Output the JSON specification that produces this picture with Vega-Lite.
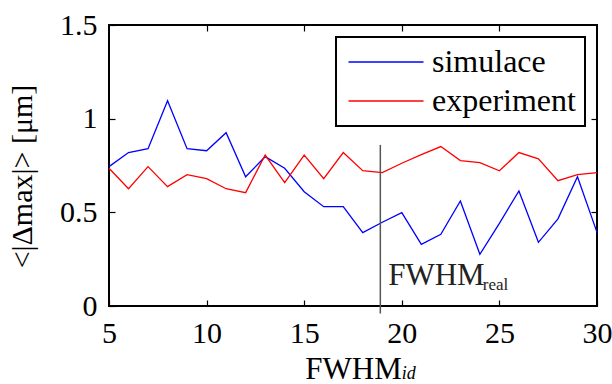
{
  "$schema": "https://vega.github.io/schema/vega-lite/v6.json",
  "width": 488,
  "height": 281,
  "autosize": {"type": "none"},
  "padding": {"left": 109, "top": 25, "right": 15, "bottom": 78},
  "background": "white",
  "config": {
    "font": "Liberation Serif",
    "view": {"stroke": "black", "strokeWidth": 2}
  },
  "resolve": {"axis": {"x": "independent", "y": "independent"}},
  "layer": [
    {
      "data": {
        "values": [
          {"x": 5, "series": "simulace", "value": 0.744},
          {"x": 6, "series": "simulace", "value": 0.819},
          {"x": 7, "series": "simulace", "value": 0.840},
          {"x": 8, "series": "simulace", "value": 1.096},
          {"x": 9, "series": "simulace", "value": 0.840},
          {"x": 10, "series": "simulace", "value": 0.829},
          {"x": 11, "series": "simulace", "value": 0.925},
          {"x": 12, "series": "simulace", "value": 0.690},
          {"x": 13, "series": "simulace", "value": 0.797},
          {"x": 14, "series": "simulace", "value": 0.735},
          {"x": 15, "series": "simulace", "value": 0.610},
          {"x": 16, "series": "simulace", "value": 0.530},
          {"x": 17, "series": "simulace", "value": 0.530},
          {"x": 18, "series": "simulace", "value": 0.392},
          {"x": 19, "series": "simulace", "value": 0.447},
          {"x": 20, "series": "simulace", "value": 0.498},
          {"x": 21, "series": "simulace", "value": 0.329},
          {"x": 22, "series": "simulace", "value": 0.383},
          {"x": 23, "series": "simulace", "value": 0.561},
          {"x": 24, "series": "simulace", "value": 0.276},
          {"x": 25, "series": "simulace", "value": 0.441},
          {"x": 26, "series": "simulace", "value": 0.614},
          {"x": 27, "series": "simulace", "value": 0.340},
          {"x": 28, "series": "simulace", "value": 0.465},
          {"x": 29, "series": "simulace", "value": 0.690},
          {"x": 30, "series": "simulace", "value": 0.393},
          {"x": 5, "series": "experiment", "value": 0.735},
          {"x": 6, "series": "experiment", "value": 0.626},
          {"x": 7, "series": "experiment", "value": 0.744},
          {"x": 8, "series": "experiment", "value": 0.637},
          {"x": 9, "series": "experiment", "value": 0.701},
          {"x": 10, "series": "experiment", "value": 0.680},
          {"x": 11, "series": "experiment", "value": 0.626},
          {"x": 12, "series": "experiment", "value": 0.605},
          {"x": 13, "series": "experiment", "value": 0.806},
          {"x": 14, "series": "experiment", "value": 0.658},
          {"x": 15, "series": "experiment", "value": 0.806},
          {"x": 16, "series": "experiment", "value": 0.680},
          {"x": 17, "series": "experiment", "value": 0.819},
          {"x": 18, "series": "experiment", "value": 0.722},
          {"x": 19, "series": "experiment", "value": 0.712},
          {"x": 20, "series": "experiment", "value": 0.762},
          {"x": 21, "series": "experiment", "value": 0.808},
          {"x": 22, "series": "experiment", "value": 0.851},
          {"x": 23, "series": "experiment", "value": 0.776},
          {"x": 24, "series": "experiment", "value": 0.765},
          {"x": 25, "series": "experiment", "value": 0.722},
          {"x": 26, "series": "experiment", "value": 0.819},
          {"x": 27, "series": "experiment", "value": 0.786},
          {"x": 28, "series": "experiment", "value": 0.669},
          {"x": 29, "series": "experiment", "value": 0.701},
          {"x": 30, "series": "experiment", "value": 0.712}
        ]
      },
      "mark": {"type": "line", "strokeWidth": 1.3},
      "encoding": {
        "x": {
          "field": "x", "type": "quantitative",
          "scale": {"domain": [5, 30], "nice": false, "zero": false},
          "axis": {
            "values": [5, 10, 15, 20, 25, 30], "title": "FWHM",
            "domain": false, "grid": false,
            "tickColor": "black", "tickSize": -6, "tickWidth": 1.2,
            "labelFont": "Liberation Serif", "labelFontSize": 30, "labelColor": "black",
            "labelPadding": 18, "labelFlush": false,
            "titleFont": "Liberation Serif", "titleFontSize": 31, "titleFontWeight": "normal", "titleColor": "black",
            "titlePadding": 6
          }
        },
        "y": {
          "field": "value", "type": "quantitative",
          "scale": {"domain": [0, 1.5], "nice": false},
          "axis": {
            "values": [0, 0.5, 1, 1.5], "format": "~g", "title": "<|Δmax|> [μm]",
            "domain": false, "grid": false,
            "tickColor": "black", "tickSize": -6, "tickWidth": 1.2,
            "labelFont": "Liberation Serif", "labelFontSize": 30, "labelColor": "black",
            "labelPadding": 18, "labelFlush": false,
            "titleFont": "Liberation Serif", "titleFontSize": 30, "titleFontWeight": "normal", "titleColor": "black",
            "titleX": -87, "titleY": 151, "titleAngle": -90, "titleAlign": "center", "titleBaseline": "middle"
          }
        },
        "color": {
          "field": "series", "type": "nominal",
          "scale": {"domain": ["simulace", "experiment"], "range": ["#0000ff", "#ff0000"]},
          "legend": {
            "title": null,
            "orient": "top-right",
            "offset": 12,
            "strokeColor": "black",
            "fillColor": "white",
            "padding": 9,
            "symbolType": "M-1,0H5",
            "symbolSize": 625,
            "symbolStrokeWidth": 1.3,
            "labelOffset": 55,
            "labelExpr": "datum.label + '\u2009'",
            "labelFont": "Liberation Serif",
            "labelFontSize": 32,
            "labelColor": "black",
            "rowPadding": 7,
            "encode": {"legend": {"update": {"strokeWidth": {"value": 2}}}}
          }
        }
      }
    },
    {
      "data": {"values": [{"x": 18.9, "y": 0.86, "y2": -0.04}]},
      "mark": {"type": "rule", "color": "#555555", "strokeWidth": 1.5},
      "encoding": {
        "x": {
          "field": "x", "type": "quantitative",
          "scale": {"domain": [5, 30], "nice": false, "zero": false},
          "axis": {"orient": "top", "values": [10, 15, 20, 25], "labels": false, "title": null, "domain": false, "grid": false, "tickColor": "black", "tickSize": -6, "tickWidth": 1.2}
        },
        "y": {
          "field": "y", "type": "quantitative",
          "scale": {"domain": [0, 1.5], "nice": false},
          "axis": {"orient": "right", "values": [0.5, 1], "labels": false, "title": null, "domain": false, "grid": false, "tickColor": "black", "tickSize": -6, "tickWidth": 1.2}
        },
        "y2": {"field": "y2"}
      }
    },
    {
      "data": {"values": [{"x": 19.3, "y": 0.112, "t": "FWHM"}]},
      "mark": {"type": "text", "align": "left", "baseline": "alphabetic", "fontSize": 31, "color": "#222222", "font": "Liberation Serif"},
      "encoding": {
        "x": {"field": "x", "type": "quantitative", "axis": null},
        "y": {"field": "y", "type": "quantitative", "axis": null},
        "text": {"field": "t"}
      }
    },
    {
      "data": {"values": [{"x": 24.15, "y": 0.085, "t": "real"}]},
      "mark": {"type": "text", "align": "left", "baseline": "alphabetic", "fontSize": 17, "color": "#222222", "font": "Liberation Serif"},
      "encoding": {
        "x": {"field": "x", "type": "quantitative", "axis": null},
        "y": {"field": "y", "type": "quantitative", "axis": null},
        "text": {"field": "t"}
      }
    },
    {
      "data": {"values": [{"x": 20.0, "y": -0.388, "t": "id"}]},
      "mark": {"type": "text", "align": "left", "baseline": "alphabetic", "fontSize": 18, "fontStyle": "italic", "color": "black", "font": "Liberation Serif"},
      "encoding": {
        "x": {"field": "x", "type": "quantitative", "axis": null},
        "y": {"field": "y", "type": "quantitative", "axis": null},
        "text": {"field": "t"}
      }
    }
  ]
}
